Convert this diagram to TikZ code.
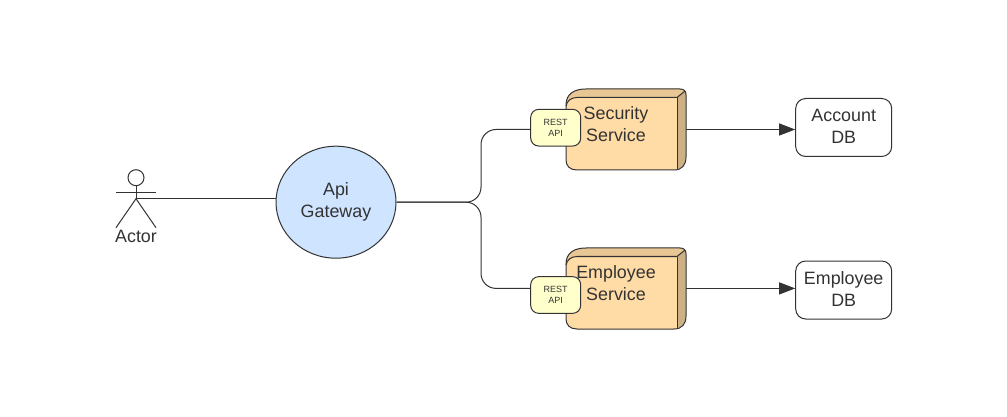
\documentclass[tikz,border=0pt]{standalone}
\usepackage{fontspec}
\setmainfont{Liberation Sans}
\usepackage{tikz}
\usetikzlibrary{arrows.meta,shapes.geometric}
\definecolor{inkgrey}{HTML}{333333}
\definecolor{gatewayblue}{HTML}{CFE4FF}
\definecolor{restyellow}{HTML}{FFFFCC}
\definecolor{servicefront}{HTML}{FFDBA6}
\definecolor{servicetop}{HTML}{E8C795}
\definecolor{serviceside}{HTML}{CDB083}
\tikzset{
%Define standard arrow tip
>={Triangle[length=12pt,width=9pt]},
%Define style for different line styles
wire/.style={draw=inkgrey, line width=.75pt},
link/.style={wire, rounded corners=11.25pt},
%Define style for the boxes
label text/.style={text=inkgrey, font=\fontsize{13.4}{16.5}\selectfont, align=center, inner sep=0pt},
gateway node/.style={label text, ellipse, wire, fill=gatewayblue, minimum width=90pt, minimum height=84pt},
service node/.style={minimum width=90pt, minimum height=60.75pt, inner sep=0pt, outer sep=0pt},
rest node/.style={wire, rounded corners=6pt, fill=restyellow, text=inkgrey, align=center, inner sep=0pt,
  font=\fontsize{6.75}{8.25}\selectfont, minimum width=37.5pt, minimum height=27.5pt},
db node/.style={label text, wire, rounded corners=7.5pt, fill=white, text depth=2pt, minimum width=72pt, minimum height=43.5pt},
}
%Faces of a service box, #1 is the top edge
\newcommand\servicefaces[1]{
    \begin{scope}[yshift=-.75*#1 pt]
    %Front
    \fill[servicefront] (566,16) .. controls (566,4) and (574,0) .. (586,0) -- (680,0) -- (677,81) -- (577,81)
      .. controls (570,81) and (566,77) .. (566,71) -- cycle;
    %Top
    \fill[servicetop] (566,17) .. controls (566,5) and (574,0) .. (586,0) -- (680,0)
      .. controls (684,0) and (686,2) .. (686,5) -- (677,8.5) -- (577,8.5) .. controls (571,8.5) and (567,12) .. (566,17) -- cycle;
    %Side
    \fill[serviceside] (677,8.5) -- (686,2) -- (686,68) .. controls (686,75) and (682,79) .. (677,80) -- cycle;
    %Outline
    \draw[wire] (566,16) .. controls (566,5) and (574,0) .. (586,0) -- (680,0) .. controls (684,0) and (686,2) .. (686,6)
      -- (686,68) .. controls (686,76) and (682,81) .. (674,81) -- (577,81) .. controls (570,81) and (566,77) .. (566,71) -- cycle;
    \draw[wire] (566,17) .. controls (567,12) and (571,8.5) .. (577,8.5) -- (677,8.5) -- (685,2);
    \draw[wire] (677,8.5) -- (677,80);
    \end{scope}
}
\begin{document}
\begin{tikzpicture}[x=.75pt, y=-.75pt]
    \useasboundingbox (0,-0.7) rectangle (1007,416.3);
    \fill[white] (0,-0.7) rectangle (1007,416.3);
    %Actor
    \node[wire, circle, minimum size=12pt, inner sep=0pt] (actorhead) at (136,177) {};
    \coordinate (hip) at (136,198);
    \coordinate (armleft) at (116,192);
    \coordinate (armright) at (156,192);
    \coordinate (footleft) at (116,227);
    \coordinate (footright) at (156,227);
    \draw[wire] (actorhead.south) -- (hip);
    \draw[wire] (armleft) -- (armright);
    \draw[wire] (footleft) -- (hip) -- (footright);
    \node[label text] (actorlabel) at (136,236) {Actor};
    %Gateway
    \node[gateway node] (gateway) at (336,201.5) {Api\\Gateway};
    \draw[wire] (hip) -- (hip -| gateway.west);
    %Services, the faces are drawn under the rest boxes
    \node[service node] (security) at (626,128.8) {};
    \servicefaces{88.3}
    \node[service node] (employee) at (626,287.7) {};
    \servicefaces{247.3}
    \node[rest node] (securityrest) at (555.7,127) {REST\\API};
    \node[rest node] (employeerest) at (555.7,294.3) {REST\\API};
    \node[label text] (securitylabel) at (616,123) {Security\\Service};
    \node[label text] (employeelabel) at (616,282) {Employee\\Service};
    %Databases
    \node[db node] (accountdb) at (843.7,126.8) {Account\\DB};
    \node[db node] (employeedb) at (843.7,289.3) {Employee\\DB};
    %Connections
    \coordinate (bus) at (481,201.5);
    \draw[link] (gateway.east) -- (bus) |- (securityrest.west |- security.east);
    \draw[link] (gateway.east) -- (bus) |- (employeerest.west |- employee.east);
    \draw[wire,->] (security.east) -- (security.east -| accountdb.west);
    \draw[wire,->] (employee.east) -- (employee.east -| employeedb.west);
\end{tikzpicture}
\end{document}
